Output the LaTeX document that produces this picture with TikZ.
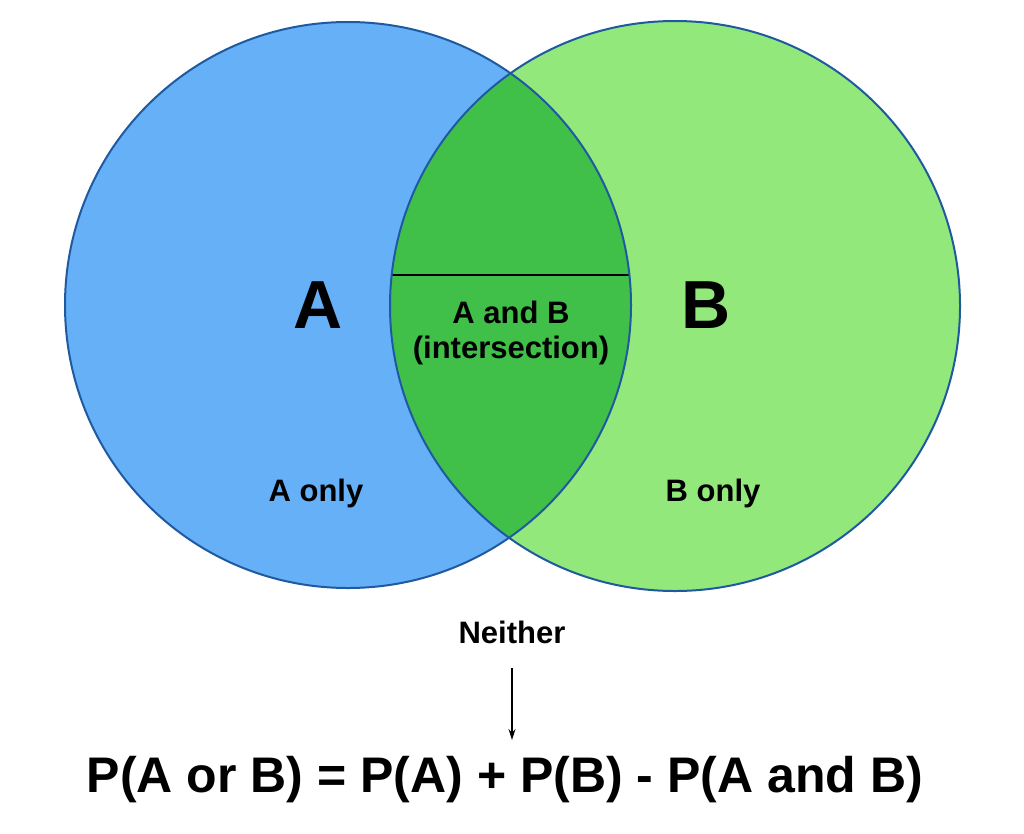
\documentclass[tikz,border=0pt]{standalone}
\usepackage{fontspec}
\setmainfont{Liberation Sans}
\usetikzlibrary{arrows.meta}
\definecolor{ablue}{HTML}{66B0F8}
\definecolor{bgreen}{HTML}{92E87A}
\definecolor{igreen}{HTML}{40C048}
\definecolor{edge}{HTML}{1F5AA0}
\begin{document}
\begin{tikzpicture}[x=1pt,y=-1pt,
  lbl/.style={font=\bfseries\fontsize{31}{36}\selectfont, text=black, inner sep=0pt},
  big/.style={font=\bfseries\fontsize{68}{76}\selectfont, inner sep=0pt}]
\useasboundingbox (0,0) rectangle (1024,833);
\fill[white] (0,0) rectangle (1024,833);
\coordinate (ca) at (348,305);
\coordinate (cb) at (675,306);
\fill[ablue] (ca) circle (283);
\fill[bgreen] (cb) circle (285);
\begin{scope}
  \clip (ca) circle (283);
  \fill[igreen] (cb) circle (285);
  \coordinate (l1) at (380,275);
  \coordinate (l2) at (640,275);
  \clip (cb) circle (285);
  \draw[line width=2.2pt] (l1) -- (l2);
\end{scope}
\draw[edge, line width=2pt] (ca) circle (283);
\draw[edge, line width=2pt] (cb) circle (285);
\node[big] (A) at (318,305) {A};
\node[big] (B) at (706,305) {B};
\node[lbl] (ab) at (511,312) {A and B};
\node[lbl] (int) at (511,350) {(intersection)};
\node[lbl] (ao) at (316,493) {A only};
\node[lbl] (bo) at (713,493) {B only};
\node[lbl] (n) at (512,632) {Neither};
\node[inner sep=0pt, font=\bfseries\fontsize{50}{56}\selectfont] (eq) at (505,780) {P(A or B) = P(A) + P(B) - P(A and B)};
\coordinate (at) at (512,740);
\draw[-{Stealth[length=11pt,width=7pt]}, line width=1.2pt] (512,668) -- (at);
\end{tikzpicture}
\end{document}
